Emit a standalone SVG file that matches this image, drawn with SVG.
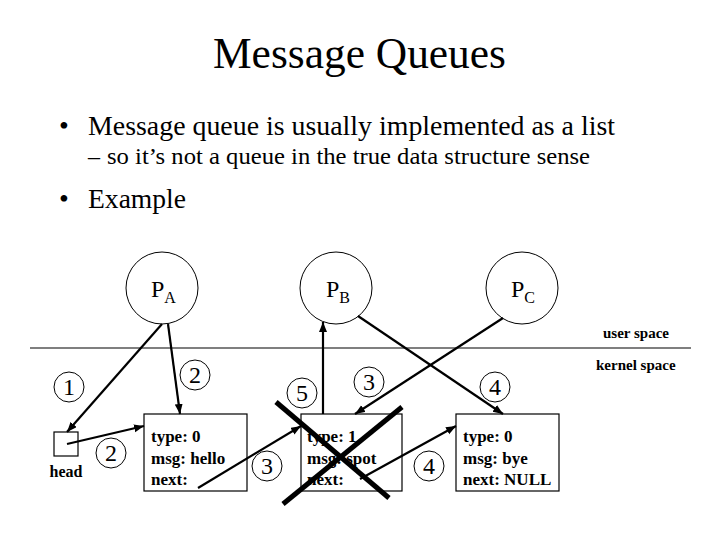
<svg xmlns="http://www.w3.org/2000/svg" width="720" height="540" viewBox="0 0 720 540">
<style>
.proc{fill:#fff;stroke:#000;stroke-width:1}
.num{fill:#fff;stroke:#000;stroke-width:1}
.box{fill:#fff;stroke:#000;stroke-width:1.2}
.arr{stroke:#000;stroke-width:2.2;fill:none;marker-end:url(#ah)}
.cross{stroke:#000;stroke-width:5;stroke-linecap:butt}
</style>
<defs>
<marker id="ah" markerUnits="userSpaceOnUse" markerWidth="11" markerHeight="9" refX="10" refY="4" orient="auto">
<path d="M0,0 L10,4 L0,8 z" fill="#000"/>
</marker>
</defs>
<rect width="720" height="540" fill="#fff"/>
<g id="title" font-family="Liberation Serif" fill="#000">
<text x="213" y="68" font-size="44" textLength="293" lengthAdjust="spacingAndGlyphs">Message Queues</text>
</g>
<g id="bullets" font-family="Liberation Serif" fill="#000">
<text x="59" y="135" font-size="28">•</text>
<text x="88" y="135" font-size="28" textLength="527" lengthAdjust="spacingAndGlyphs">Message queue is usually implemented as a list</text>
<text x="88" y="164" font-size="24">–</text>
<text x="107" y="164" font-size="24" textLength="483" lengthAdjust="spacingAndGlyphs">so it’s not a queue in the true data structure sense</text>
<text x="59" y="208" font-size="28">•</text>
<text x="88" y="208" font-size="28" textLength="98" lengthAdjust="spacingAndGlyphs">Example</text>
</g>
<g id="boundary" font-family="Liberation Serif" fill="#000">
<line x1="30" y1="348" x2="691" y2="348" stroke="#000" stroke-width="1.2"/>
<text x="603" y="338" font-size="15" font-weight="bold">user space</text>
<text x="596" y="370" font-size="15" font-weight="bold">kernel space</text>
</g>
<g id="PA" font-family="Liberation Serif">
<circle class="proc" cx="162" cy="288" r="36"/>
<text x="151" y="297" font-size="24">P<tspan font-size="16" dy="6">A</tspan></text>
</g>
<g id="PB" font-family="Liberation Serif">
<circle class="proc" cx="336" cy="288" r="36"/>
<text x="326" y="297" font-size="24">P<tspan font-size="16" dy="6">B</tspan></text>
</g>
<g id="PC" font-family="Liberation Serif">
<circle class="proc" cx="522" cy="288" r="36"/>
<text x="511" y="297" font-size="24">P<tspan font-size="16" dy="6">C</tspan></text>
</g>
<g id="head" font-family="Liberation Serif">
<rect class="box" x="54" y="432" width="24" height="24"/>
<text x="66" y="477" font-size="16" font-weight="bold" text-anchor="middle">head</text>
</g>
<g id="msg1" font-family="Liberation Serif" font-size="17" font-weight="bold">
<rect class="box" x="144" y="414" width="103" height="77"/>
<text x="151" y="442">type: 0</text>
<text x="151" y="464">msg: hello</text>
<text x="151" y="485">next:</text>
</g>
<g id="msg2" font-family="Liberation Serif" font-size="17" font-weight="bold">
<rect class="box" x="301" y="414" width="101" height="77"/>
<text x="307" y="442">type: 1</text>
<text x="307" y="464">msg: spot</text>
<text x="307" y="485">next:</text>
</g>
<g id="msg3" font-family="Liberation Serif" font-size="17" font-weight="bold">
<rect class="box" x="456" y="414" width="103" height="77"/>
<text x="463" y="442">type: 0</text>
<text x="463" y="464">msg: bye</text>
<text x="463" y="485">next: NULL</text>
</g>
<g id="connectors">
<line class="arr" x1="162" y1="324" x2="67" y2="432"/>
<line class="arr" x1="168" y1="324" x2="180" y2="414"/>
<line class="arr" x1="67" y1="444" x2="144" y2="426"/>
<line class="arr" x1="198" y1="488" x2="301" y2="426"/>
<line class="arr" x1="323" y1="414" x2="323" y2="322"/>
<line class="arr" x1="358" y1="316" x2="503" y2="414"/>
<line class="arr" x1="503" y1="318" x2="355" y2="414"/>
<line class="arr" x1="360" y1="479" x2="456" y2="426"/>
</g>
<g id="step-labels" font-family="Liberation Serif" font-size="24" text-anchor="middle">
<circle class="num" cx="69" cy="387" r="15"/><text x="69" y="395">1</text>
<circle class="num" cx="195" cy="375" r="15"/><text x="195" y="383">2</text>
<circle class="num" cx="111" cy="453" r="15"/><text x="111" y="461">2</text>
<circle class="num" cx="267" cy="466" r="15"/><text x="267" y="474">3</text>
<circle class="num" cx="369" cy="382" r="15"/><text x="369" y="390">3</text>
<circle class="num" cx="302" cy="393" r="15"/><text x="302" y="401">5</text>
<circle class="num" cx="495" cy="387" r="15"/><text x="495" y="395">4</text>
<circle class="num" cx="429" cy="466" r="15"/><text x="429" y="474">4</text>
</g>
<g id="cross">
<line class="cross" x1="276" y1="402" x2="389" y2="498"/>
<line class="cross" x1="283" y1="504" x2="402" y2="407"/>
</g>
</svg>
